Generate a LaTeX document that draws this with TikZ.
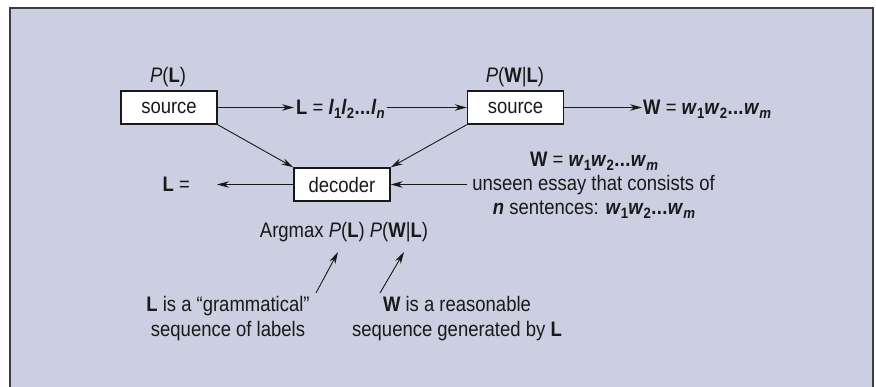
\documentclass[tikz,border=0pt]{standalone}
\usepackage{fontspec}
\setmainfont{Liberation Sans}[FakeStretch=0.88]
\usetikzlibrary{arrows.meta}
\definecolor{bgfill}{RGB}{204,207,225}
\definecolor{framec}{RGB}{60,60,66}
\definecolor{inkc}{RGB}{25,25,25}
\newcommand{\bL}{\textbf{L}}
\newcommand{\bW}{\textbf{W}}
\newcommand{\iw}{\textbf{\textit{w}}}
\newcommand{\il}{\textbf{\textit{l}}}
\newcommand{\sub}[1]{\raisebox{-4.5pt}{\fontsize{15}{15}\selectfont\textbf{#1}}}
\newcommand{\isub}[1]{\raisebox{-4.5pt}{\fontsize{15}{15}\selectfont\textbf{\textit{#1}}}}
\newcommand{\dts}{\textbf{\kern0.5pt.\kern0.3pt.\kern0.3pt.\kern0.5pt}}
\begin{document}
\begin{tikzpicture}[x=1pt,y=-1pt,
  every node/.style={font=\fontsize{21}{25}\selectfont, text=inkc},
  box/.style={draw=inkc, line width=1.4pt, fill=white, minimum width=96pt, minimum height=33pt, inner sep=0pt},
  txt/.style={inner sep=0pt, anchor=base},
  arr/.style={draw=inkc, line width=0.9pt, -{Stealth[length=12pt,width=6.5pt]}}]
\useasboundingbox (0,0) rectangle (876,386);
\fill[white] (0,0) rectangle (876,386);
\draw[framec, line width=1.5pt, fill=bgfill] (10,8) rectangle (873,400);

\node[box] (src1) at (169,107.5) {source};
\node[box] (src2) at (515.5,107.5) {source};
\node[box] (dec) at (342,184.5) {decoder};

\node[txt] (PL) at (168,82) {\textit{P}(\bL)};
\node[txt] (PWL) at (515,82) {\textit{P}(\bW|\bL)};

\node[txt, anchor=base west, inner xsep=2pt] (Lseq) at (294,114) {\bL{} = \il\sub{1}\il\sub{2}\dts\il\isub{n}};
\node[txt, anchor=base west, inner xsep=1pt] (Wseq) at (642,114) {\bW{} = \iw\sub{1}\iw\sub{2}\dts\iw\isub{m}};

\draw[arr] (src1.east) -- (Lseq.west |- src1.east);
\draw[arr] (Lseq.east |- src2.west) -- (src2.west);
\draw[arr] (src2.east) -- (Wseq.west |- src2.east);

\draw[arr] (src1.south east) -- (dec.north west);
\draw[arr] (src2.south west) -- (dec.north east);

\node[txt, anchor=base east] (Lout) at (190,191) {\bL{} =};
\draw[arr, shorten >=27pt] (dec.west) -- (Lout.east |- dec.west);

\node[txt] (W2) at (594,166) {\bW{} = \iw\sub{1}\iw\sub{2}\dts\iw\isub{m}};
\node[txt, inner xsep=5pt] (unseen) at (593.5,190) {unseen essay that consists of};
\node[txt] (nsent) at (594,214) {\textbf{\textit{n}} sentences: \iw\sub{1}\iw\sub{2}\dts\iw\isub{m}};
\draw[arr] (unseen.west |- dec.east) -- (dec.east);

\node[txt] (argmax) at (344,237) {Argmax \textit{P}(\bL) \textit{P}(\bW|\bL)};

\node[txt, align=center] (lab1) at (228,336) {\bL{} is a “grammatical”\\ sequence of labels};
\node[txt, align=center] (lab2) at (457,336) {\bW{} is a reasonable\\ sequence generated by \bL};

\coordinate (a1s) at (316,293);
\coordinate (a1e) at (338,252);
\coordinate (a2s) at (380,293);
\coordinate (a2e) at (404,252);
\draw[arr] (a1s) -- (a1e);
\draw[arr] (a2s) -- (a2e);
\end{tikzpicture}
\end{document}
